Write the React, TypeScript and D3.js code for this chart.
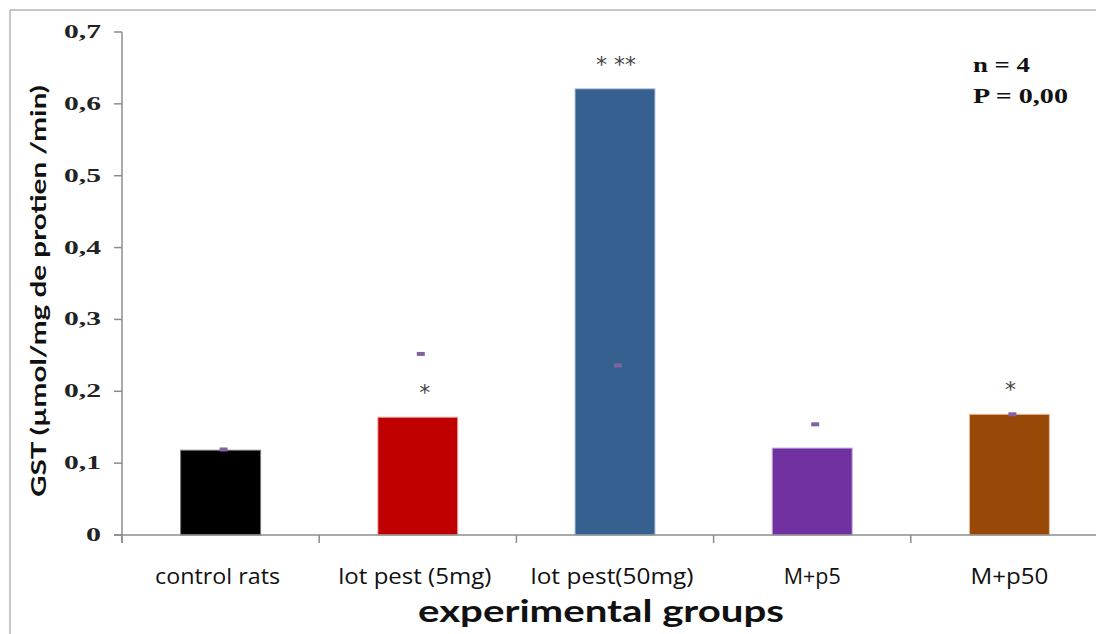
import React from "react";
import * as d3 from "d3";

const groups = ["control rats", "lot pest (5mg)", "lot pest(50mg)", "M+p5", "M+p50"];
const gstValues = [0.118, 0.164, 0.621, 0.121, 0.168];
const errorMarks = [0.119, 0.252, 0.236, 0.154, 0.168];
const barColors = ["#000000", "#C00000", "#35608F", "#7030A0", "#984807"];
const barEdges = ["#7a7a7a", "#f2b8b8", "#b8c8dc", "#c9b0e0", "#e8c0a0"];
const significance = ["", "*", "* **", "", "*"];
const yTicks = [0, 0.1, 0.2, 0.3, 0.4, 0.5, 0.6, 0.7];
const labelWidths = [125, 153, 163, 57, 78];

const W = 1096;
const H = 634;
const plot = { left: 122, right: 1108, top: 32, bottom: 535 };

export default function App() {
  const x = d3
    .scaleBand<string>()
    .domain(groups)
    .range([plot.left, plot.right])
    .paddingInner(0)
    .paddingOuter(0);
  const y = d3.scaleLinear().domain([0, 0.7]).range([plot.bottom, plot.top]);
  const band = x.bandwidth();
  const barW = 80;
  const fmt = (v: number) => (v === 0 ? "0" : d3.format(".1f")(v).replace(".", ","));
  const axisColor = "#8c8c8c";
  const boundaries = groups.map((g) => x(g) as number).concat([plot.right]);

  return (
    <svg
      width={W}
      height={H}
      style={{ position: "fixed", left: 0, top: 0, background: "#fff" }}
    >
      <rect x={0} y={0} width={W} height={H} fill="#fff" />
      {/* outer chart frame */}
      <line x1={10} y1={10} x2={W} y2={10} stroke="#b4b4b4" strokeWidth={1.5} />
      <line x1={10} y1={10} x2={10} y2={H} stroke="#b4b4b4" strokeWidth={1.5} />

      {/* y axis */}
      <line x1={plot.left} y1={plot.top} x2={plot.left} y2={plot.bottom + 8} stroke={axisColor} strokeWidth={1.5} />
      {yTicks.map((t) => (
        <g key={t}>
          <line x1={plot.left - 8} x2={plot.left} y1={y(t)} y2={y(t)} stroke={axisColor} strokeWidth={1.5} />
          <text
            x={101}
            y={y(t) + 6}
            textAnchor="end"
            fontFamily="'Liberation Serif', 'DejaVu Serif', serif"
            fontWeight="bold"
            fontSize={19}
            fill="#222"
            textLength={t === 0 ? 15 : 37}
            lengthAdjust="spacingAndGlyphs"
          >
            {fmt(t)}
          </text>
        </g>
      ))}

      {/* bars */}
      {groups.map((g, i) => (
        <rect
          key={g}
          x={(x(g) as number) + band / 2 - barW / 2}
          y={y(gstValues[i])}
          width={barW}
          height={plot.bottom - y(gstValues[i])}
          fill={barColors[i]}
          stroke={barEdges[i]}
          strokeWidth={1}
        />
      ))}

      {/* x axis */}
      <line x1={plot.left - 8} x2={W} y1={plot.bottom} y2={plot.bottom} stroke={axisColor} strokeWidth={1.5} />
      {boundaries.map((bx, i) => (
        <line key={i} x1={bx} x2={bx} y1={plot.bottom} y2={plot.bottom + 8} stroke={axisColor} strokeWidth={1.5} />
      ))}

      {/* error markers */}
      {groups.map((g, i) => (
        <rect
          key={g}
          x={(x(g) as number) + band / 2 + 3 - 4}
          y={y(errorMarks[i]) - 2}
          width={8}
          height={4}
          fill="#8064A2"
        />
      ))}

      {/* significance stars */}
      {groups.map((g, i) =>
        significance[i] ? (
          <text
            key={g}
            x={(x(g) as number) + band / 2 + (i === 1 ? 7 : 1)}
            y={y(gstValues[i]) - 17}
            textAnchor="middle"
            fontFamily="'DejaVu Sans', sans-serif"
            fontSize={22}
            fill="#444"
          >
            {significance[i]}
          </text>
        ) : null
      )}

      {/* category labels */}
      {groups.map((g, i) => (
        <text
          key={g}
          x={(x(g) as number) + band / 2 - (i < 3 ? 3 : 0)}
          y={584}
          textAnchor="middle"
          fontFamily="'Liberation Sans Narrow', 'Open Sans', sans-serif"
          fontSize={21}
          fill="#111"
          textLength={labelWidths[i]}
          lengthAdjust="spacingAndGlyphs"
        >
          {g}
        </text>
      ))}

      {/* axis titles */}
      <text
        x={601}
        y={622}
        textAnchor="middle"
        fontFamily="Lato, 'Open Sans', sans-serif"
        fontWeight="bold"
        fontSize={31}
        fill="#111"
        textLength={366}
        lengthAdjust="spacingAndGlyphs"
      >
        experimental groups
      </text>
      <text
        transform={`translate(46, ${291}) rotate(-90)`}
        textAnchor="middle"
        fontFamily="Lato, 'Open Sans', sans-serif"
        fontWeight="bold"
        fontSize={21}
        fill="#111"
        textLength={412}
        lengthAdjust="spacingAndGlyphs"
      >
        GST (µmol/mg de protien /min)
      </text>

      {/* sample info */}
      <text
        x={973}
        y={72}
        fontFamily="'Liberation Serif', serif"
        fontWeight="bold"
        fontSize={20}
        fill="#111"
        textLength={57}
        lengthAdjust="spacingAndGlyphs"
      >
        n = 4
      </text>
      <text
        x={973}
        y={103}
        fontFamily="'Liberation Serif', serif"
        fontWeight="bold"
        fontSize={21}
        fill="#111"
        textLength={95}
        lengthAdjust="spacingAndGlyphs"
      >
        P = 0,00
      </text>
    </svg>
  );
}
